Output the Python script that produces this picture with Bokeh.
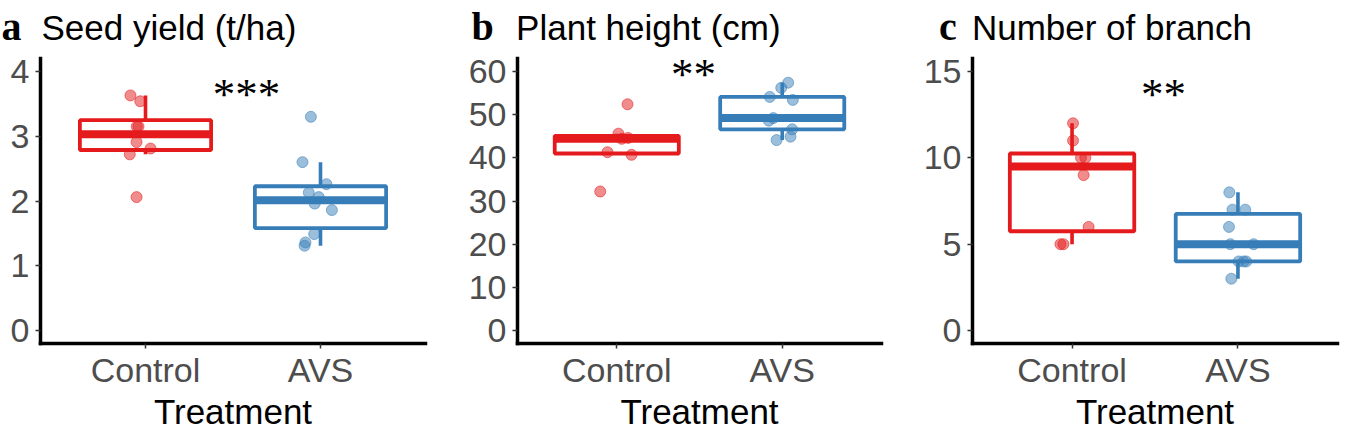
import numpy as np
from bokeh.plotting import figure
from bokeh.layouts import row, column
from bokeh.models import Range1d, FixedTicker
from bokeh.embed import file_html
from bokeh.resources import INLINE
from bokeh.core.properties import value

# ---------------- data ----------------
categories = ["Control", "AVS"]
cat_pos = [1, 2]

yield_control = [3.63, 3.54, 3.15, 3.15, 2.91, 2.81, 2.72, 2.06]
yield_control_jit = [-0.086, -0.030, -0.040, -0.050, -0.051, 0.029, -0.090, -0.051]
yield_avs = [3.30, 2.60, 2.26, 2.13, 2.06, 1.96, 1.86, 1.49, 1.36, 1.31]
yield_avs_jit = [-0.055, -0.103, 0.034, -0.067, -0.010, -0.033, 0.065, -0.036, -0.086, -0.091]

height_control = [52.4, 45.6, 44.6, 44.4, 41.3, 40.7, 32.2]
height_control_jit = [0.065, 0.010, 0.068, 0.030, -0.056, 0.089, -0.100]
height_avs = [57.4, 56.2, 54.1, 53.4, 49.2, 48.6, 46.6, 44.9, 44.1]
height_avs_jit = [0.036, -0.006, -0.075, 0.064, -0.054, -0.081, 0.060, 0.050, -0.034]

branch_control = [12, 11, 10, 10, 9, 6, 5, 5]
branch_control_jit = [0.006, 0.006, 0.054, 0.080, 0.070, 0.100, -0.070, -0.052]
branch_avs = [8, 7, 7, 6, 5, 5, 4, 4, 4, 3]
branch_avs_jit = [-0.052, -0.033, 0.044, -0.054, -0.046, 0.094, 0.004, 0.034, 0.050, -0.040]

panel_letters = ["a", "b", "c"]
panel_titles = ["Seed yield (t/ha)", "Plant height (cm)", "Number of branch"]
y_ticks_a = [0, 1, 2, 3, 4]
y_ticks_b = [0, 10, 20, 30, 40, 50, 60]
y_ticks_c = [0, 5, 10, 15]
y_limits = [4, 60, 15]
sig_labels = ["***", "**", "**"]
sig_x = [1.577, 1.464, 1.551]
sig_y = [3.645, 59.5, 13.67]
x_title = "Treatment"

RED = "#E41A1C"
BLUE = "#377EB8"
SANS = "Liberation Sans"
SERIF = "Liberation Serif"

# ---------------- layout (page pixels) ----------------
HEADER_H = 50
AXIS_H = 285          # height of the drawn y axis (data span 1.1 * limit)
EXTRA_TOP = 8         # empty frame space above the axis top
BORDER_BOTTOM = 89
geoms = [
    dict(x0=0, bl=40, fw=385, br=25, letter_px=1.0, title_px=41.0),
    dict(x0=450, bl=67, fw=364, br=19, letter_px=471.0, title_px=515.6),
    dict(x0=900, bl=72, fw=365, br=4, letter_px=938.5, title_px=971.4),
]
TOTAL_W = sum(g["bl"] + g["fw"] + g["br"] for g in geoms)
TITLE_Y = 27.2
LETTER_Y = 25.5


def box_stats(vals):
    v = np.sort(np.asarray(vals, float))
    q1, med, q3 = np.percentile(v, [25, 50, 75])
    iqr = q3 - q1
    lo = v[v >= q1 - 1.5 * iqr].min()
    hi = v[v <= q3 + 1.5 * iqr].max()
    return q1, med, q3, lo, hi


def make_panel(i, ctrl, ctrl_j, avs, avs_j, yticks):
    g = geoms[i]
    m = y_limits[i]
    y0, y1 = -0.05 * m, 1.05 * m
    upy = (y1 - y0) / AXIS_H
    p = figure(frame_width=g["fw"], frame_height=AXIS_H + EXTRA_TOP,
               min_border_left=g["bl"], min_border_right=g["br"],
               min_border_top=0, min_border_bottom=BORDER_BOTTOM,
               x_range=Range1d(0.4, 2.6),
               y_range=Range1d(y0, y1 + EXTRA_TOP * upy),
               output_backend="svg", toolbar_location=None, tools="",
               title=None)
    p.outline_line_color = None
    p.xgrid.visible = False
    p.ygrid.visible = False
    p.background_fill_color = "white"
    p.border_fill_color = "white"

    p.xaxis.ticker = FixedTicker(ticks=cat_pos)
    p.xaxis.major_label_overrides = dict(zip(cat_pos, categories))
    p.yaxis.ticker = FixedTicker(ticks=yticks)
    p.yaxis.bounds = (y0, y1)
    for ax in (p.xaxis[0], p.yaxis[0]):
        ax.axis_line_width = 3.5
        ax.axis_line_color = "black"
        ax.axis_line_cap = "square"
        ax.major_tick_line_color = "#333333"
        ax.major_tick_line_width = 1.5
        ax.major_tick_out = 5
        ax.major_tick_in = 0
        ax.minor_tick_line_color = None
        ax.major_label_text_font = SANS
        ax.major_label_text_font_size = "34px"
        ax.major_label_text_color = "#4D4D4D"
    p.yaxis.major_label_standoff = 6
    p.xaxis.major_label_standoff = 2
    p.xaxis.axis_label = x_title
    p.xaxis.axis_label_text_font = SANS
    p.xaxis.axis_label_text_font_size = "35px"
    p.xaxis.axis_label_text_font_style = "normal"
    p.xaxis.axis_label_text_color = "black"
    p.xaxis.axis_label_standoff = 0

    groups = [(1, ctrl, ctrl_j, RED), (2, avs, avs_j, BLUE)]
    for pos, vals, jit, col in groups:
        q1, med, q3, lo, hi = box_stats(vals)
        p.segment(x0=[pos, pos], y0=[q3, q1], x1=[pos, pos], y1=[hi, lo],
                  line_color=col, line_width=3.6)
        p.quad(left=[pos - 0.375], right=[pos + 0.375], bottom=[q1], top=[q3],
               fill_color="white", line_color=col, line_width=3.8)
        p.segment(x0=[pos - 0.375], y0=[med], x1=[pos + 0.375], y1=[med],
                  line_color=col, line_width=8)
    for pos, vals, jit, col in groups:
        p.scatter(x=[pos + j for j in jit], y=vals, size=11,
                  fill_color=col, fill_alpha=0.5, line_color=col,
                  line_alpha=0.55, line_width=1)

    p.text(x=[sig_x[i]], y=[sig_y[i]], text=[sig_labels[i]],
           text_font=value(SERIF), text_font_size="45px",
           text_align="center", text_baseline="alphabetic", text_color="black")
    return p


# header strip holding the panel letters and titles (page-pixel coordinates)
header = figure(width=TOTAL_W, height=HEADER_H,
                x_range=Range1d(0, TOTAL_W), y_range=Range1d(HEADER_H, 0),
                x_axis_type=None, y_axis_type=None, min_border=0,
                output_backend="svg", toolbar_location=None, tools="",
                title=None)
header.outline_line_color = None
header.xgrid.visible = False
header.ygrid.visible = False
header.text(x=[g["letter_px"] for g in geoms], y=[LETTER_Y] * 3,
            text=panel_letters, text_font=value(SERIF), text_font_style="bold",
            text_font_size="40px", text_color="black", text_baseline="alphabetic")
header.text(x=[g["title_px"] for g in geoms], y=[TITLE_Y] * 3,
            text=panel_titles, text_font=value(SANS),
            text_font_size="35px", text_color="black", text_baseline="alphabetic")

pa = make_panel(0, yield_control, yield_control_jit, yield_avs, yield_avs_jit, y_ticks_a)
pb = make_panel(1, height_control, height_control_jit, height_avs, height_avs_jit, y_ticks_b)
pc = make_panel(2, branch_control, branch_control_jit, branch_avs, branch_avs_jit, y_ticks_c)

layout = column(header, row(pa, pb, pc, spacing=0), spacing=0)
open("out.html", "w").write(file_html(layout, INLINE))
